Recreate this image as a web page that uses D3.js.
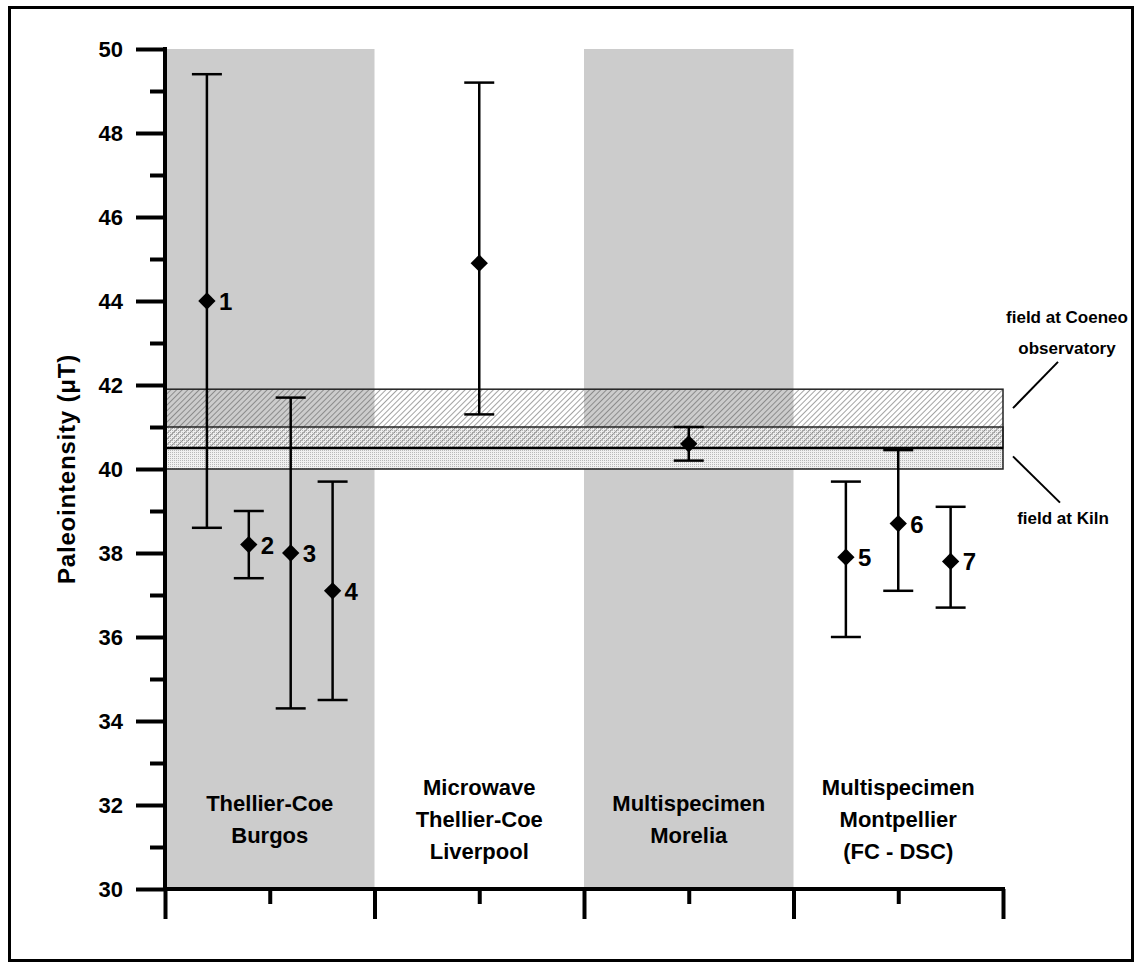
<!DOCTYPE html>
<html>
<head>
<meta charset="utf-8">
<script src="https://cdn.jsdelivr.net/npm/d3@7"></script>
<style>
  body { margin: 0; background: #fff; }
  text { font-family: "Liberation Sans", Arial, sans-serif; font-weight: bold; fill: #000; }
</style>
</head>
<body>
<div id="chart"></div>
<script>
// Paleointensity estimates per method, with the present field bands

// samples: x position on the method axis, mean and error range (muT)
const sampleX     = [0.4, 0.8, 1.2, 1.6, 3.0, 5.0, 6.5, 7.0, 7.5];
const sampleValue = [44.0, 38.2, 38.0, 37.1, 44.9, 40.6, 37.9, 38.7, 37.8];
const sampleLow   = [38.6, 37.4, 34.3, 34.5, 41.3, 40.2, 36.0, 37.1, 36.7];
const sampleHigh  = [49.4, 39.0, 41.7, 39.7, 49.2, 41.0, 39.7, 40.45, 39.1];
const sampleLabel = ["1", "2", "3", "4", "", "", "5", "6", "7"];

// method groups
const methodNames = [
    ["Thellier-Coe", "Burgos"],
    ["Microwave", "Thellier-Coe", "Liverpool"],
    ["Multispecimen", "Morelia"],
    ["Multispecimen", "Montpellier", "(FC - DSC)"]
];
const methodCenter = [1, 3, 5, 7];
const shadedRanges = [[0, 2], [4, 6]];

// present-day field bands
const coeneoBand = [40.5, 41.9];
const kilnBand = [40.0, 41.0];

const yMajorTicks = d3.range(30, 51, 2);
const yMinorTicks = d3.range(31, 50, 2);
const xMajorTicks = [0, 2, 4, 6, 8];
const xMinorTicks = [1, 3, 5, 7];

const width = 1134, height = 965;
const mLeft = 165, mRight = 1003, mTop = 49, mBottom = 889;

const svg = d3.select('#chart')
    .append('svg')
    .attr('xmlns', 'http://www.w3.org/2000/svg')
    .attr('width', width)
    .attr('height', height);

const x = d3.scaleLinear().domain([0, 8]).range([mLeft, mRight]);
const y = d3.scaleLinear().domain([30, 50]).range([mBottom, mTop]);

// patterns
const defs = svg.append('defs');
const hatch = defs.append('pattern')
    .attr('id', 'hatch')
    .attr('patternUnits', 'userSpaceOnUse')
    .attr('width', 4).attr('height', 4)
    .attr('patternTransform', 'rotate(45)');
hatch.append('line')
    .attr('x1', 0).attr('y1', 0).attr('x2', 0).attr('y2', 4)
    .attr('stroke', '#555').attr('stroke-width', 1.1);

const dots = defs.append('pattern')
    .attr('id', 'dots')
    .attr('patternUnits', 'userSpaceOnUse')
    .attr('width', 2).attr('height', 2);
dots.append('rect').attr('width', 2).attr('height', 2).attr('fill', '#f0f0f0');
dots.append('rect').attr('width', 1).attr('height', 1).attr('fill', '#b8b8b8');

// outer frame
svg.append('rect')
    .attr('x', 9.5).attr('y', 7.5)
    .attr('width', 1123).attr('height', 953)
    .attr('fill', 'none')
    .attr('stroke', '#000')
    .attr('stroke-width', 3);

// grey method columns
svg.selectAll('.shade')
    .data(shadedRanges)
    .enter()
    .append('rect')
    .attr('class', 'shade')
    .attr('x', d => x(d[0]))
    .attr('width', d => x(d[1]) - x(d[0]))
    .attr('y', y(50))
    .attr('height', y(30) - y(50))
    .attr('fill', '#cccccc');

// field bands
svg.append('rect')
    .attr('x', x(0)).attr('width', x(8) - x(0))
    .attr('y', y(kilnBand[1])).attr('height', y(kilnBand[0]) - y(kilnBand[1]))
    .attr('fill', 'url(#dots)');
svg.append('rect')
    .attr('x', x(0)).attr('width', x(8) - x(0))
    .attr('y', y(coeneoBand[1])).attr('height', y(coeneoBand[0]) - y(coeneoBand[1]))
    .attr('fill', 'url(#hatch)');
svg.append('rect')
    .attr('x', x(0)).attr('width', x(8) - x(0))
    .attr('y', y(coeneoBand[1])).attr('height', y(coeneoBand[0]) - y(coeneoBand[1]))
    .attr('fill', 'none').attr('stroke', '#222').attr('stroke-width', 1.5);
svg.append('rect')
    .attr('x', x(0)).attr('width', x(8) - x(0))
    .attr('y', y(kilnBand[1])).attr('height', y(kilnBand[0]) - y(kilnBand[1]))
    .attr('fill', 'none').attr('stroke', '#222').attr('stroke-width', 1.5);
svg.append('line')
    .attr('x1', x(0)).attr('x2', x(8))
    .attr('y1', y(coeneoBand[0])).attr('y2', y(coeneoBand[0]))
    .attr('stroke', '#000').attr('stroke-width', 2.5);

// band annotations
svg.append('line')
    .attr('x1', x(8) + 10).attr('y1', y(41.45))
    .attr('x2', x(8) + 55).attr('y2', y(42.55))
    .attr('stroke', '#000').attr('stroke-width', 2);
svg.append('line')
    .attr('x1', x(8) + 10).attr('y1', y(40.3))
    .attr('x2', x(8) + 57).attr('y2', y(39.2))
    .attr('stroke', '#000').attr('stroke-width', 2);

const fieldText = svg.append('text')
    .attr('text-anchor', 'middle')
    .style('font-size', '17px');
fieldText.append('tspan').attr('x', 1067).attr('y', 323).text('field at Coeneo');
fieldText.append('tspan').attr('x', 1067).attr('y', 354).text('observatory');
svg.append('text')
    .attr('x', 1063).attr('y', 524)
    .attr('text-anchor', 'middle')
    .style('font-size', '17px')
    .text('field at Kiln');

// samples
const samples = sampleX.map((d, i) => ({
    x: d, v: sampleValue[i], lo: sampleLow[i], hi: sampleHigh[i], label: sampleLabel[i]
}));
const capHalf = 15;

const bars = svg.selectAll('.sample')
    .data(samples)
    .enter()
    .append('g')
    .attr('class', 'sample');

bars.append('line')
    .attr('x1', d => x(d.x)).attr('x2', d => x(d.x))
    .attr('y1', d => y(d.hi)).attr('y2', d => y(d.lo))
    .attr('stroke', '#000').attr('stroke-width', 2.5);
bars.append('line')
    .attr('x1', d => x(d.x) - capHalf).attr('x2', d => x(d.x) + capHalf)
    .attr('y1', d => y(d.hi)).attr('y2', d => y(d.hi))
    .attr('stroke', '#000').attr('stroke-width', 2.5);
bars.append('line')
    .attr('x1', d => x(d.x) - capHalf).attr('x2', d => x(d.x) + capHalf)
    .attr('y1', d => y(d.lo)).attr('y2', d => y(d.lo))
    .attr('stroke', '#000').attr('stroke-width', 2.5);
bars.append('path')
    .attr('d', d3.symbol().type(d3.symbolSquare).size(150))
    .attr('transform', d => `translate(${x(d.x)},${y(d.v)}) rotate(45)`)
    .attr('fill', '#000');
bars.append('text')
    .attr('x', d => x(d.x) + 12)
    .attr('y', d => y(d.v) + 9)
    .style('font-size', '24px')
    .text(d => d.label);

// method names
methodNames.forEach((lines, i) => {
    const t = svg.append('text')
        .attr('text-anchor', 'middle')
        .style('font-size', '22px');
    const y0 = lines.length === 3 ? 795 : 811;
    lines.forEach((s, j) => {
        t.append('tspan')
            .attr('x', x(methodCenter[i]))
            .attr('y', y0 + j * 32)
            .text(s);
    });
});

// axes
function styleAxis(g) {
    g.select('.domain').remove();
    g.selectAll('.tick line').attr('stroke', '#000').attr('stroke-width', 4);
    g.selectAll('.tick text')
        .style('font-size', '22px')
        .style('font-family', '"Liberation Sans", Arial, sans-serif')
        .style('font-weight', 'bold')
        .attr('fill', '#000');
}

svg.append('g')
    .attr('transform', `translate(${mLeft},0)`)
    .call(d3.axisLeft(y).tickValues(yMajorTicks).tickSize(29).tickPadding(13).tickFormat(d3.format('d')))
    .call(styleAxis);
svg.append('g')
    .attr('transform', `translate(${mLeft},0)`)
    .call(d3.axisLeft(y).tickValues(yMinorTicks).tickSize(15).tickFormat(''))
    .call(styleAxis);
svg.append('g')
    .attr('transform', `translate(0,${mBottom})`)
    .call(d3.axisBottom(x).tickValues(xMajorTicks).tickSize(30).tickFormat(''))
    .call(styleAxis);
svg.append('g')
    .attr('transform', `translate(0,${mBottom})`)
    .call(d3.axisBottom(x).tickValues(xMinorTicks).tickSize(15).tickFormat(''))
    .call(styleAxis);

svg.append('line')
    .attr('x1', mLeft).attr('x2', mLeft)
    .attr('y1', mTop - 2).attr('y2', mBottom + 2)
    .attr('stroke', '#000').attr('stroke-width', 4);
svg.append('line')
    .attr('x1', mLeft - 2).attr('x2', mRight + 2)
    .attr('y1', mBottom).attr('y2', mBottom)
    .attr('stroke', '#000').attr('stroke-width', 4);

// y title
svg.append('text')
    .attr('transform', `translate(75,${(mTop + mBottom) / 2}) rotate(-90)`)
    .attr('text-anchor', 'middle')
    .style('font-size', '24px')
    .style('letter-spacing', '0.8px')
    .text('Paleointensity (\u03bcT)');
</script>
</body>
</html>
